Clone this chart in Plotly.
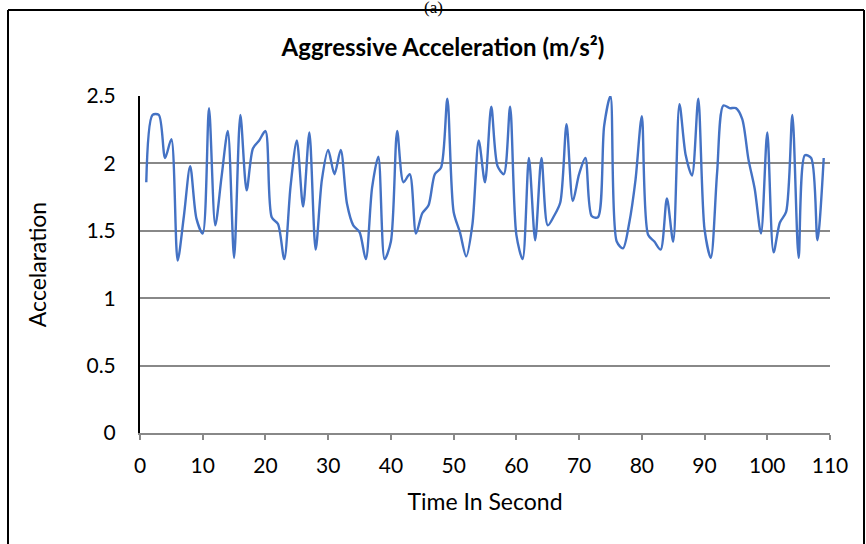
import plotly.graph_objects as go

# Aggressive acceleration samples, one per second
time_s = list(range(1, 110))
accel = [
    1.86, 2.36, 2.36, 2.04, 2.18, 1.28, 1.61, 1.98, 1.59, 1.48,
    2.41, 1.54, 1.90, 2.24, 1.30, 2.36, 1.80, 2.11, 2.17, 2.24,
    1.60, 1.55, 1.29, 1.83, 2.17, 1.68, 2.23, 1.36, 1.88, 2.10,
    1.92, 2.10, 1.70, 1.54, 1.49, 1.29, 1.82, 2.05, 1.29, 1.42,
    2.24, 1.86, 1.92, 1.48, 1.63, 1.69, 1.92, 1.97, 2.48, 1.64,
    1.49, 1.31, 1.55, 2.17, 1.86, 2.42, 1.98, 1.92, 2.42, 1.47,
    1.29, 2.04, 1.43, 2.04, 1.54, 1.61, 1.71, 2.29, 1.72, 1.92,
    2.04, 1.61, 1.60, 2.28, 2.50, 1.42, 1.37, 1.56, 1.88, 2.35,
    1.47, 1.42, 1.36, 1.74, 1.42, 2.44, 2.06, 1.91, 2.48, 1.51,
    1.30, 1.93, 2.43, 2.41, 2.41, 2.33, 2.03, 1.81, 1.48, 2.23,
    1.34, 1.56, 1.64, 2.36, 1.30, 2.06, 2.04, 1.43, 2.04,
]
x_ticks = [0, 10, 20, 30, 40, 50, 60, 70, 80, 90, 100, 110]
y_ticks = [0, 0.5, 1, 1.5, 2, 2.5]

W, H = 866, 544
L, R, T, B = 140, 830, 96, 433  # plot area edges in pixels

def px(x):
    return (x - L) / (R - L)

def py(y):
    return (B - y) / (B - T)

FONT = "Lato, Calibri, sans-serif"

fig = go.Figure()
fig.add_trace(go.Scatter(
    x=time_s, y=accel, mode="lines",
    line=dict(color="#4472C4", width=2.4, shape="spline", smoothing=0.8),
    hoverinfo="x+y", showlegend=False,
))

fig.update_layout(
    width=W, height=H,
    margin=dict(l=L, r=W - R, t=T, b=H - B),
    paper_bgcolor="white", plot_bgcolor="white",
    font=dict(family=FONT, color="black", size=21),
    title=dict(
        text="<b>Aggressive Acceleration (m/s²)</b>",
        x=px(443), xref="paper", xanchor="center",
        y=1 - 48 / H, yanchor="middle",
        font=dict(size=24, family=FONT, color="black"),
    ),
    xaxis=dict(
        range=[0, 110], tickvals=x_ticks, ticktext=[str(v) for v in x_ticks],
        showgrid=False, zeroline=False,
        showline=True, linecolor="#888888", linewidth=1.5,
        ticks="outside", ticklen=5, tickcolor="#888888", tickwidth=1.5,
        tickfont=dict(size=21), ticklabelstandoff=8,
        title=dict(text="Time In Second", font=dict(size=23), standoff=18),
    ),
    yaxis=dict(
        range=[0, 2.5], tickvals=y_ticks,
        ticktext=["0", "0.5", "1", "1.5", "2", "2.5"],
        showgrid=True, gridcolor="#888888", gridwidth=2,
        zeroline=False,
        showline=True, linecolor="black", linewidth=2,
        ticks="", tickfont=dict(size=21), ticklabelstandoff=18,
        title=dict(text="Accelaration", font=dict(size=23), standoff=33),
    ),
)

# outer frame around the chart
fig.add_shape(type="line", xref="paper", yref="paper",
              x0=px(8), x1=px(8), y0=py(10), y1=py(560),
              line=dict(color="black", width=2))
fig.add_shape(type="line", xref="paper", yref="paper",
              x0=px(8), x1=px(864), y0=py(10), y1=py(10),
              line=dict(color="black", width=2))
fig.add_shape(type="line", xref="paper", yref="paper",
              x0=px(864), x1=px(864), y0=py(10), y1=py(560),
              line=dict(color="black", width=2))

# caption letter above the frame
fig.add_annotation(text="(a)", xref="paper", yref="paper",
                   x=px(433), y=py(-4), showarrow=False,
                   font=dict(family="Liberation Serif, Times New Roman, serif", size=17))

fig.write_html("out.html")
